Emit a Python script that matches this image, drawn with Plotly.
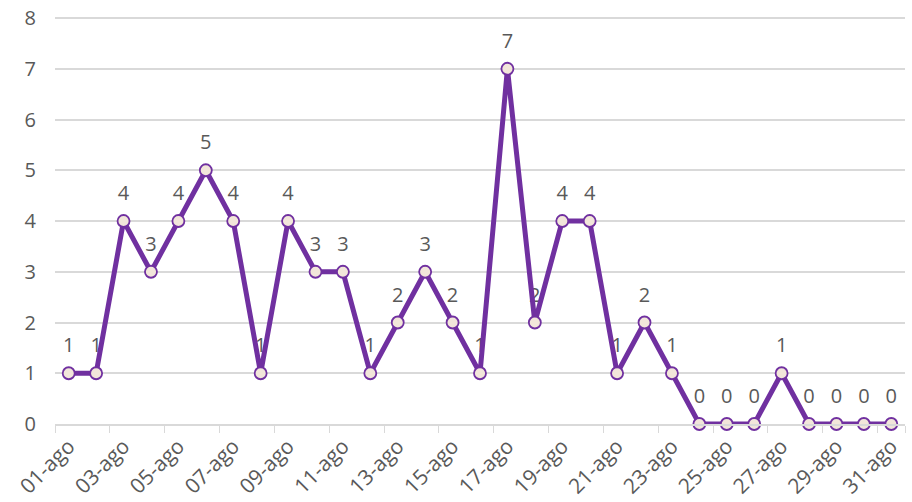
import plotly.graph_objects as go

days = [f"{d:02d}-ago" for d in range(1, 32)]
values = [1, 1, 4, 3, 4, 5, 4, 1, 4, 3, 3, 1, 2, 3, 2, 1, 7, 2, 4, 4, 1, 2, 1, 0, 0, 0, 1, 0, 0, 0, 0]
tick_labels = days[::2]
y_ticks = [0, 1, 2, 3, 4, 5, 6, 7, 8]

purple = "#7030A0"
grey_text = "#595959"
grid = "#D9D9D9"
font_family = "Open Sans, Noto Sans, sans-serif"

fig = go.Figure()
# data labels (drawn below the line, as in the reference)
fig.add_trace(go.Scatter(
    x=days, y=values, mode="markers+text",
    text=[str(v) for v in values], textposition="top center",
    textfont=dict(size=20, color=grey_text, family=font_family),
    marker=dict(size=24, opacity=0), hoverinfo="skip", showlegend=False,
    cliponaxis=False,
))
fig.add_trace(go.Scatter(
    x=days, y=values, mode="lines+markers",
    line=dict(color=purple, width=5),
    marker=dict(size=12, color="#F2E6DA", line=dict(color=purple, width=1.8)),
    showlegend=False, cliponaxis=False,
))

fig.update_layout(
    width=912, height=502,
    margin=dict(l=55, r=7, t=17, b=78),
    plot_bgcolor="white", paper_bgcolor="white",
    font=dict(family=font_family, color=grey_text, size=20),
)
fig.update_xaxes(
    type="category", range=[-0.5, 30.5], automargin=False,
    tickmode="array", tickvals=tick_labels, ticktext=tick_labels,
    tickangle=-45, tickson="boundaries", ticks="outside", ticklen=7,
    tickcolor=grid, showline=True, linecolor=grid, linewidth=1.5,
    showgrid=False, tickfont=dict(size=21, color=grey_text),
)
fig.update_yaxes(
    range=[0, 8.02], tickvals=y_ticks, showgrid=True, gridcolor=grid, gridwidth=1.5,
    zeroline=False, showline=False, ticks="", ticklabelstandoff=18, automargin=False,
    tickfont=dict(size=20, color=grey_text),
)

fig.write_html(
    "out.html",
    config={"displayModeBar": False},
    post_script="document.body.style.margin='0';document.body.style.overflow='hidden';",
)
